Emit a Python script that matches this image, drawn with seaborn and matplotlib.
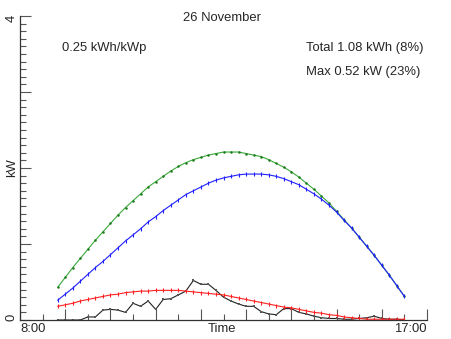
import matplotlib
matplotlib.use("Agg")
import matplotlib.pyplot as plt
import seaborn as sns
import pandas as pd
import numpy as np

sns.set_style("ticks")
plt.rcParams['font.family'] = ['Liberation Sans', 'DejaVu Sans']

# time stamps (10-min samples)
times = ["08:50", "09:00", "09:10", "09:20", "09:30", "09:40", "09:50", "10:00",
         "10:10", "10:20", "10:30", "10:40", "10:50", "11:00", "11:10", "11:20",
         "11:30", "11:40", "11:50", "12:00", "12:10", "12:20", "12:30", "12:40",
         "12:50", "13:00", "13:10", "13:20", "13:30", "13:40", "13:50", "14:00",
         "14:10", "14:20", "14:30", "14:40", "14:50", "15:00", "15:10", "15:20",
         "15:30", "15:40", "15:50", "16:00", "16:10", "16:20", "16:30"]

green_kw = [0.43, 0.56, 0.69, 0.81, 0.93, 1.05, 1.16, 1.27, 1.38, 1.48, 1.57, 1.66,
            1.75, 1.82, 1.89, 1.96, 2.02, 2.07, 2.11, 2.14, 2.17, 2.19, 2.21, 2.21,
            2.21, 2.19, 2.17, 2.15, 2.11, 2.06, 2.01, 1.95, 1.88, 1.80, 1.72, 1.63,
            1.54, 1.43, 1.32, 1.21, 1.09, 0.97, 0.85, 0.72, 0.59, 0.45, 0.31]

blue_kw = [0.26, 0.34, 0.42, 0.51, 0.60, 0.69, 0.77, 0.86, 0.95, 1.04, 1.12, 1.20,
           1.29, 1.36, 1.44, 1.51, 1.58, 1.65, 1.70, 1.75, 1.80, 1.84, 1.87, 1.89,
           1.91, 1.92, 1.92, 1.92, 1.91, 1.89, 1.86, 1.82, 1.78, 1.72, 1.66, 1.59,
           1.51, 1.42, 1.31, 1.21, 1.09, 0.97, 0.85, 0.72, 0.59, 0.45, 0.31]

red_kw = [0.18, 0.20, 0.22, 0.25, 0.27, 0.29, 0.31, 0.33, 0.34, 0.36, 0.37, 0.38,
          0.38, 0.39, 0.39, 0.39, 0.39, 0.38, 0.37, 0.36, 0.35, 0.34, 0.33, 0.31,
          0.29, 0.27, 0.25, 0.23, 0.21, 0.19, 0.17, 0.16, 0.14, 0.12, 0.10, 0.09,
          0.07, 0.06, 0.04, 0.03, 0.02, 0.01, 0.01, 0.01, 0.01, 0.01, 0.01]

black_kw = [0.0, 0.0, 0.0, 0.0, 0.04, 0.04, 0.13, 0.14, 0.13, 0.10, 0.22, 0.18,
            0.25, 0.14, 0.27, 0.28, 0.33, 0.38, 0.52, 0.47, 0.47, 0.39, 0.30, 0.25,
            0.21, 0.18, 0.18, 0.11, 0.08, 0.07, 0.15, 0.15, 0.10, 0.08, 0.05, 0.03,
            0.02, 0.02, 0.01, 0.01, 0.02, 0.03, 0.05, 0.02, 0.01, 0.01, 0.0]

title = "26 November"
specific = "0.25 kWh/kWp"
total_txt = "Total 1.08 kWh (8%)"
max_txt = "Max 0.52 kW (23%)"

hours = [int(t[:2]) + int(t[3:]) / 60 for t in times]
df = pd.DataFrame({"hour": hours, "green": green_kw, "blue": blue_kw,
                   "red": red_kw, "black": black_kw})

W, H = 452, 339
fig = plt.figure(figsize=(W / 100, H / 100), dpi=100)
ax = fig.add_axes([20 / W, 1 - 320 / H, 407 / W, 304 / H])

common = dict(ax=ax, linestyle="-", lw=0.8)
sns.lineplot(data=df, x="hour", y="black", color="#222222",
             marker="s", markersize=1.6, markeredgewidth=0,
             markerfacecolor="#555555", **common)
sns.lineplot(data=df, x="hour", y="red", color="#ff2020",
             marker="|", markersize=3, markeredgewidth=0.8,
             markeredgecolor="#ff2020", **common)
sns.lineplot(data=df, x="hour", y="green", color="#3aa83a",
             marker="o", markersize=1.8, markeredgewidth=0,
             markerfacecolor="#1a7a1a", **common)
sns.lineplot(data=df, x="hour", y="blue", color="#2020ff",
             marker="|", markersize=3, markeredgewidth=0.8,
             markeredgecolor="#2020ff", **common)

ax.set_xlim(8, 17)
ax.set_ylim(0, 4)
ax.set_xlabel("")
ax.set_ylabel("")
for s in ["top", "right"]:
    ax.spines[s].set_visible(False)
for s in ["left", "bottom"]:
    ax.spines[s].set_color("#333333")
    ax.spines[s].set_linewidth(0.9)

ax.set_xticks(np.arange(8, 17.01, 1.0))
ax.set_xticks(np.arange(8.5, 17, 1.0), minor=True)
ax.set_yticks(np.arange(0, 4.01, 1.0))
ax.set_yticks([v for v in np.round(np.arange(0, 4.001, 0.1), 2) if v % 1 != 0], minor=True)
ax.tick_params(axis="both", which="both", direction="in", color="#555555",
               width=0.8, bottom=True, left=True, top=False, right=False,
               labelbottom=False, labelleft=False)
ax.tick_params(axis="both", which="major", length=8)
ax.tick_params(axis="both", which="minor", length=4)
ax.set_xlim(8, 17)
ax.set_ylim(0, 4)
ax.set_facecolor("white")
fig.patch.set_facecolor("white")

fs = 9.4
def px(x, y):
    return x / W, 1 - y / H

fig.text(*px(222, 18), title, ha="center", va="center", fontsize=fs)
fig.text(*px(62, 48), specific, ha="left", va="center", fontsize=fs)
fig.text(*px(306, 48), total_txt, ha="left", va="center", fontsize=fs)
fig.text(*px(306, 72), max_txt, ha="left", va="center", fontsize=fs)
fig.text(*px(222, 329), "Time", ha="center", va="center", fontsize=fs)
fig.text(*px(20, 329), "8:00", ha="left", va="center", fontsize=fs)
fig.text(*px(427, 329), "17:00", ha="right", va="center", fontsize=fs)
fig.text(*px(12, 18), "4", ha="center", va="center", fontsize=fs, rotation=90)
fig.text(*px(12, 317), "0", ha="center", va="center", fontsize=fs, rotation=90)
fig.text(*px(12, 168), "kW", ha="center", va="center", fontsize=fs, rotation=90)

fig.savefig("out.png", dpi=100, facecolor="white")
